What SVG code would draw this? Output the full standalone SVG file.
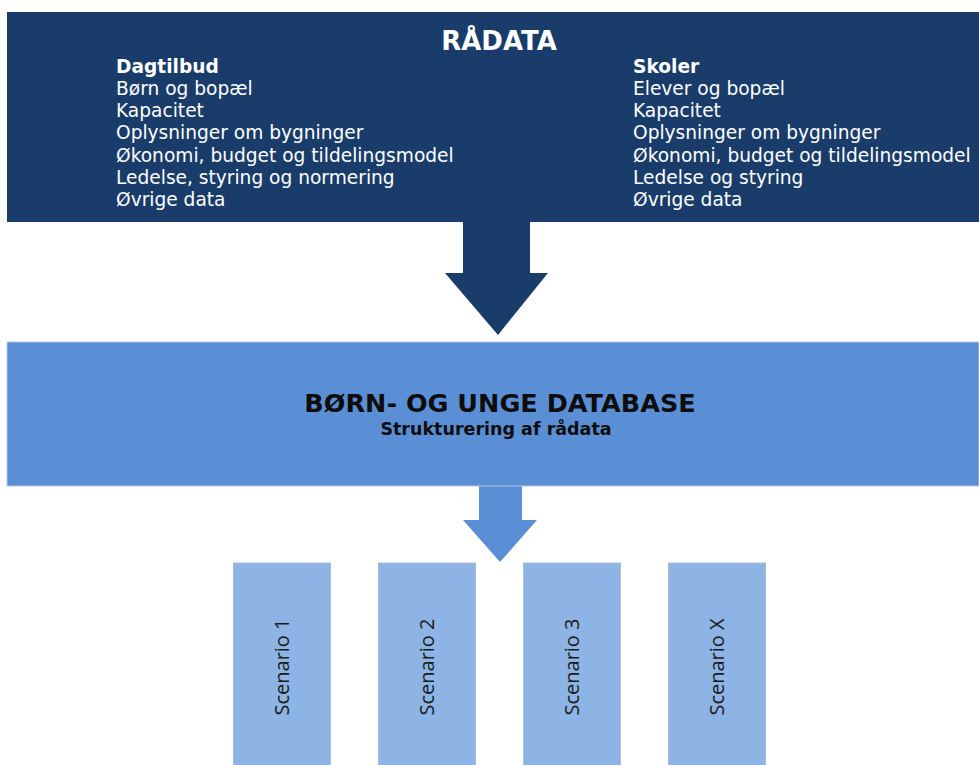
<svg xmlns="http://www.w3.org/2000/svg" width="979" height="765" viewBox="0 0 979 765">
<style>
.t{font-family:"DejaVu Sans",Verdana,sans-serif;}
.w{fill:#ffffff;}
.item{font-size:18.6px;}
.hd{font-size:18.6px;font-weight:bold;}
.sc{fill:#8db4e4;stroke:#a9bdd6;stroke-width:1;}
.sct{font-family:"Open Sans","Liberation Sans",sans-serif;font-size:20px;fill:#1a1a1a;text-anchor:middle;}
</style>
<rect width="979" height="765" fill="#ffffff"/>
<g id="connectors">
<polygon id="arrow1" points="463,221 530,221 530,273 548,273 498,335 445,273 463,273" fill="#193c6b"/>
<polygon id="arrow2" points="479,485 522,485 522,520 537,520 500,562 463,520 479,520" fill="#5a8fd6"/>
</g>
<g id="radata">
<rect x="7" y="12" width="972" height="210" fill="#193c6b"/>
<text class="t w" x="499" y="50" font-size="26px" font-weight="bold" text-anchor="middle">RÅDATA</text>
<text class="t w hd" x="116" y="73">Dagtilbud</text>
<text class="t w item" x="116" y="95">Børn og bopæl</text>
<text class="t w item" x="116" y="117">Kapacitet</text>
<text class="t w item" x="116" y="139">Oplysninger om bygninger</text>
<text class="t w item" x="116" y="161.5">Økonomi, budget og tildelingsmodel</text>
<text class="t w item" x="116" y="184">Ledelse, styring og normering</text>
<text class="t w item" x="116" y="206">Øvrige data</text>
<text class="t w hd" x="633" y="73">Skoler</text>
<text class="t w item" x="633" y="95">Elever og bopæl</text>
<text class="t w item" x="633" y="117">Kapacitet</text>
<text class="t w item" x="633" y="139">Oplysninger om bygninger</text>
<text class="t w item" x="633" y="161.5">Økonomi, budget og tildelingsmodel</text>
<text class="t w item" x="633" y="184">Ledelse og styring</text>
<text class="t w item" x="633" y="206">Øvrige data</text>
</g>
<g id="database">
<rect x="7" y="342" width="972" height="144" fill="#5a8fd6" stroke="#b9c6d8" stroke-width="1"/>
<text class="t" x="500" y="412" font-size="25.5px" font-weight="bold" text-anchor="middle" fill="#0d0d0d">BØRN- OG UNGE DATABASE</text>
<text class="t" x="496" y="435" font-size="17.5px" font-weight="bold" text-anchor="middle" fill="#0d0d0d">Strukturering af rådata</text>
</g>
<g id="scenario1">
<rect class="sc" x="233.5" y="563" width="97" height="205"/>
<text class="sct" transform="translate(289,667) rotate(-90)">Scenario 1</text>
</g>
<g id="scenario2">
<rect class="sc" x="378.5" y="563" width="97" height="205"/>
<text class="sct" transform="translate(434,667) rotate(-90)">Scenario 2</text>
</g>
<g id="scenario3">
<rect class="sc" x="523.5" y="563" width="97" height="205"/>
<text class="sct" transform="translate(579,667) rotate(-90)">Scenario 3</text>
</g>
<g id="scenarioX">
<rect class="sc" x="668.5" y="563" width="97" height="205"/>
<text class="sct" transform="translate(724,667) rotate(-90)">Scenario X</text>
</g>
</svg>
